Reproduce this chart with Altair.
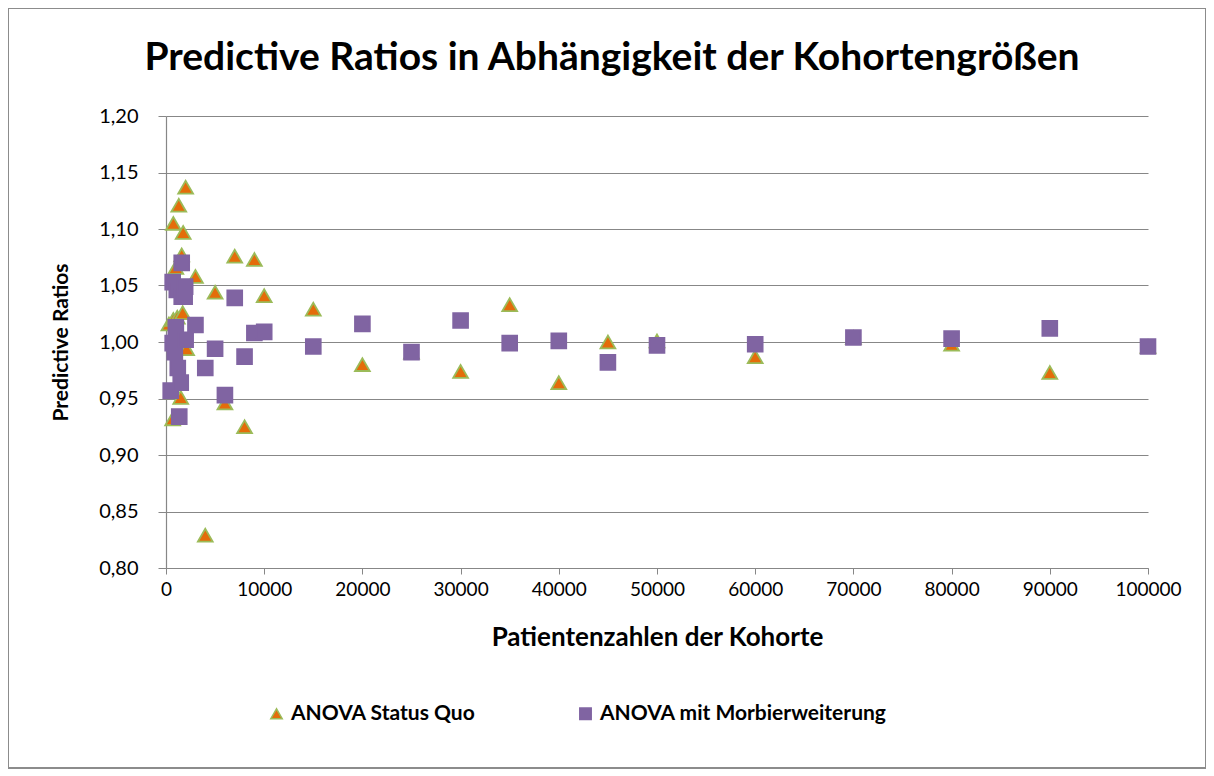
import altair as alt
import pandas as pd

# ANOVA Status Quo (triangles)
tri_x = [300, 680, 750, 750, 1000, 1150, 1300, 1500, 1600, 1700, 1750, 2000, 2100,
         3000, 4000, 5000, 6000, 7000, 8000, 9000, 10000, 15000, 20000, 25000, 30000,
         35000, 40000, 45000, 50000, 60000, 70000, 80000, 90000, 100000]
tri_y = [1.016, 0.932, 1.105, 1.020, 1.066, 1.022, 1.121, 0.951, 1.077, 1.026, 1.097, 1.137, 0.994,
         1.058, 0.829, 1.044, 0.946, 1.076, 0.925, 1.073, 1.041, 1.029, 0.980, 0.991, 0.974,
         1.033, 0.964, 1.000, 1.001, 0.987, 1.004, 0.998, 0.973, 0.996]

# ANOVA mit Morbierweiterung (squares)
sq_x = [480, 680, 680, 900, 1000, 1100, 1200, 1350, 1500, 1600, 1600, 1900, 1950, 2000,
        3000, 4000, 5000, 6000, 7000, 8000, 9000, 10000, 15000, 20000, 25000, 30000,
        35000, 40000, 45000, 50000, 60000, 70000, 80000, 90000, 100000]
sq_y = [0.957, 1.053, 0.999, 0.991, 1.013, 1.046, 0.977, 0.934, 0.964, 1.070, 1.040, 1.040, 1.049, 1.002,
        1.015, 0.977, 0.994, 0.953, 1.039, 0.987, 1.008, 1.009, 0.996, 1.016, 0.991, 1.019,
        0.999, 1.001, 0.982, 0.997, 0.998, 1.004, 1.003, 1.012, 0.996]

series = ["ANOVA Status Quo", "ANOVA mit Morbierweiterung"]
x_ticks = list(range(0, 100001, 10000))
y_ticks = [0.80, 0.85, 0.90, 0.95, 1.00, 1.05, 1.10, 1.15, 1.20]

df = pd.concat([
    pd.DataFrame({"x": tri_x, "y": tri_y, "s": series[0]}),
    pd.DataFrame({"x": sq_x, "y": sq_y, "s": series[1]}),
], ignore_index=True)

FONT = "Lato"
GRID = "#878787"

points = alt.Chart(df).mark_point(filled=True, opacity=1, size=220, strokeWidth=1.8).encode(
    x=alt.X("x:Q", scale=alt.Scale(domain=[0, 100000], nice=False),
            axis=alt.Axis(values=x_ticks, format="d", title="Patientenzahlen der Kohorte",
                          grid=False, tickSize=6, labelPadding=6, titlePadding=25,
                          labelFlush=False, labelOverlap=False, labelFontSize=19,
                          titleFontSize=26)),
    y=alt.Y("y:Q", scale=alt.Scale(domain=[0.8, 1.2], nice=False, zero=False),
            axis=alt.Axis(values=y_ticks, title="Predictive Ratios",
                          labelExpr="replace(format(datum.value, '.2f'), '.', ',')",
                          grid=True, tickSize=8, labelPadding=20, titlePadding=27,
                          titleFontSize=21)),
    color=alt.Color("s:N", scale=alt.Scale(domain=series, range=["#E46C0A", "#8064A2"]),
                    legend=alt.Legend(title=None, orient="none", direction="horizontal",
                                      legendX=100, legendY=587, symbolSize=130,
                                      columnPadding=99, labelFontSize=21, labelLimit=500,
                                      labelFontWeight="bold", labelFont=FONT,
                                      labelColor="black", symbolStrokeWidth=1.5)),
    shape=alt.Shape("s:N", scale=alt.Scale(domain=series, range=["triangle-up", "square"])),
    stroke=alt.Stroke("s:N", scale=alt.Scale(domain=series, range=["#9BBB59", "#8064A2"])),
)

frame = alt.Chart(df).mark_rect(fill=None, stroke="#8C8C8C", strokeWidth=1.2).encode(
    x=alt.value(-158), x2=alt.value(1040), y=alt.value(-108), y2=alt.value(652)
)

chart = alt.layer(frame, points).properties(
    width=982, height=452,
    autosize=alt.AutoSizeParams(type="none"),
    padding={"left": 158, "top": 108, "right": 58, "bottom": 202},
    title=alt.Title("Predictive Ratios in Abhängigkeit der Kohortengrößen",
                    font=FONT, fontSize=39, fontWeight="bold", color="black",
                    anchor="middle", dx=-45, offset=-71),
).configure_view(stroke=None).configure_axis(
    labelFont=FONT, labelFontSize=20, labelColor="black",
    titleFont=FONT, titleFontWeight="bold", titleColor="black",
    domainColor=GRID, tickColor=GRID, gridColor=GRID, domainWidth=1.2, gridWidth=1.2,
)

chart.save("out.html", embed_options={"renderer": "svg", "actions": False})
